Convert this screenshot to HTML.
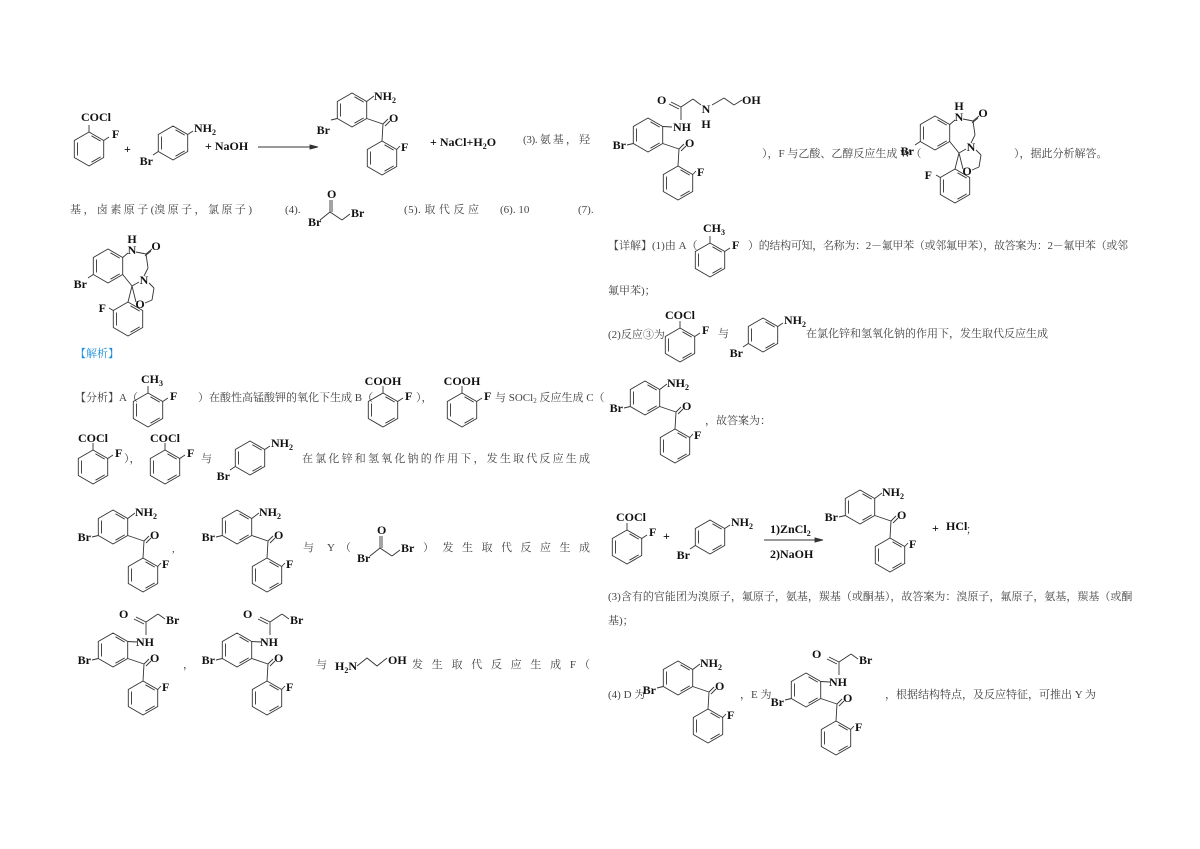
<!DOCTYPE html>
<html><head><meta charset="utf-8"><style>
html,body{margin:0;padding:0;background:#fff}
svg{display:block}
.t{font-family:"Liberation Serif","Noto Serif CJK SC",serif;font-size:11px;fill:#444}
.c{font-family:"Liberation Serif",serif;font-size:12px;font-weight:bold;fill:#111}
.m{text-anchor:middle}
.e{text-anchor:end}
.s{font-size:8px}
line,polyline,polygon,path{stroke:#333;stroke-width:0.9;fill:none}
</style></head><body>
<svg width="1200" height="849" viewBox="0 0 1200 849" xmlns="http://www.w3.org/2000/svg">
<defs>
<g id="ring"><polygon points="0,-17 14.7,-8.5 14.7,8.5 0,17 -14.7,8.5 -14.7,-8.5"/><line x1="-11.5" y1="-6.5" x2="-11.5" y2="6.5"/><line x1="2.5" y1="-13.2" x2="11.7" y2="-7.9"/><line x1="11.7" y1="7.9" x2="2.5" y2="13.2"/></g>
<g id="dcore"><use href="#ring"/><line x1="-14.7" y1="8.5" x2="-21" y2="10"/><line x1="14.7" y1="8.5" x2="31" y2="14"/><line x1="31" y1="14" x2="36" y2="9"/><line x1="33" y1="16" x2="38" y2="11"/><line x1="31" y1="14" x2="30" y2="31"/><use href="#ring" x="30" y="48"/><line x1="44.7" y1="39.5" x2="48" y2="36"/></g>
<g id="dsk"><use href="#dcore"/><line x1="14.7" y1="-8.5" x2="22" y2="-14"/></g>
<g id="esk"><use href="#dcore"/><line x1="14.7" y1="-8.5" x2="24" y2="-8"/><line x1="33" y1="-15" x2="33" y2="-28"/><line x1="33" y1="-28" x2="23" y2="-33"/><line x1="31" y1="-26" x2="21" y2="-31"/><line x1="33" y1="-28" x2="45" y2="-36"/><line x1="45" y1="-36" x2="52" y2="-31"/></g>
<g id="bz"><use href="#ring"/><line x1="0" y1="-17" x2="0" y2="-24"/><line x1="14.7" y1="-8.5" x2="20" y2="-12"/></g>
<g id="ba"><use href="#ring"/><line x1="14.7" y1="-8.5" x2="20" y2="-12"/><line x1="-14.7" y1="8.5" x2="-20" y2="12"/></g>
<g id="wsk"><use href="#ring"/><line x1="-14.7" y1="8.5" x2="-20" y2="12"/><line x1="14.7" y1="-8.5" x2="20" y2="-13"/><line x1="28" y1="-14" x2="38" y2="-12"/><line x1="38" y1="-12" x2="44" y2="-17"/><line x1="37" y1="-10" x2="43" y2="-15"/><line x1="38" y1="-12" x2="40" y2="2"/><line x1="40" y1="2" x2="36" y2="10"/><line x1="14.7" y1="8.5" x2="24" y2="20"/><line x1="24" y1="20" x2="31" y2="16"/><line x1="41" y1="17" x2="46" y2="22"/><line x1="46" y1="22" x2="44" y2="34"/><line x1="44" y1="34" x2="37" y2="37"/><line x1="28" y1="36" x2="24" y2="20"/><line x1="24" y1="20" x2="20" y2="36"/><use href="#ring" x="20" y="53"/><line x1="5.3" y1="44.5" x2="1" y2="42"/></g>
</defs>

<!-- top-left reaction -->
<use href="#bz" x="89" y="149"/><text class="c m" x="96" y="121">COCl</text><text class="c" x="112" y="138">F</text>
<text class="c" x="124" y="153">+</text>
<use href="#ba" x="173" y="143"/><text class="c" x="194" y="132">NH<tspan class="s" dy="3">2</tspan></text><text class="c e" x="153" y="165">Br</text>
<text class="c" x="205" y="150">+ NaOH</text>
<line x1="258" y1="147" x2="316" y2="147"/><polygon points="318,147 310,145 310,149" style="fill:#333"/>
<use href="#dsk" x="352" y="110"/><text class="c" x="374" y="100">NH<tspan class="s" dy="3">2</tspan></text><text class="c e" x="330" y="134">Br</text><text class="c" x="389" y="122">O</text><text class="c" x="401" y="151">F</text>
<text class="c" x="430" y="146">+ NaCl+H<tspan class="s" dy="3">2</tspan><tspan dy="-3">O</tspan></text>
<text class="t" x="523" y="143" textLength="67">(3). 氨 基 ， 羟</text>

<text class="t" x="70" y="213" textLength="182">基 ， 卤 素 原 子 (溴 原 子 ， 氯 原 子 )</text>
<text class="t" x="285" y="213">(4).</text>
<line x1="320" y1="220" x2="330" y2="212"/><line x1="330" y1="212" x2="330" y2="200"/><line x1="332" y1="212" x2="332" y2="200"/><line x1="330" y1="212" x2="342" y2="220"/><line x1="342" y1="220" x2="350" y2="214"/>
<text class="c" x="327" y="198">O</text><text class="c" x="308" y="226">Br</text><text class="c" x="351" y="217">Br</text>
<text class="t" x="404" y="213" textLength="75">(5). 取 代 反 应</text>
<text class="t" x="500" y="213">(6). 10</text>
<text class="t" x="578" y="213">(7).</text>

<use href="#wsk" x="108" y="266"/><text class="c m" x="132" y="243">H</text><text class="c m" x="132" y="254">N</text><text class="c m" x="156" y="250">O</text><text class="c m" x="144" y="284">N</text><text class="c m" x="140" y="308">O</text><text class="c e" x="106" y="312">F</text><text class="c e" x="87" y="288">Br</text>

<text class="t" x="75" y="357" style="fill:#1a8fd8">【解析】</text>

<text class="t" x="75" y="401">【分析】A（</text>
<use href="#bz" x="148" y="410"/><text class="c m" x="152" y="383">CH<tspan class="s" dy="3">3</tspan></text><text class="c" x="170" y="400">F</text>
<text class="t" x="198" y="401">）在酸性高锰酸钾的氧化下生成 B（</text>
<use href="#bz" x="383" y="410"/><text class="c m" x="383" y="385">COOH</text><text class="c" x="405" y="400">F</text>
<text class="t" x="416" y="401">），</text>
<use href="#bz" x="462" y="410"/><text class="c m" x="462" y="385">COOH</text><text class="c" x="484" y="400">F</text>
<text class="t" x="495" y="401">与 SOCl<tspan font-size="7" dy="2">2</tspan><tspan dy="-2"> 反应生成 C（</tspan></text>

<use href="#bz" x="93" y="467"/><text class="c m" x="93" y="442">COCl</text><text class="c" x="115" y="457">F</text>
<text class="t" x="124" y="462">），</text>
<use href="#bz" x="165" y="467"/><text class="c m" x="165" y="442">COCl</text><text class="c" x="187" y="457">F</text>
<text class="t" x="201" y="462">与</text>
<use href="#ba" x="250" y="458"/><text class="c" x="271" y="447">NH<tspan class="s" dy="3">2</tspan></text><text class="c e" x="230" y="480">Br</text>
<text class="t" x="302" y="462" textLength="288">在 氯 化 锌 和 氢 氧 化 钠 的 作 用 下 ， 发 生 取 代 反 应 生 成</text>

<use href="#dsk" x="113" y="527"/><text class="c" x="135" y="516">NH<tspan class="s" dy="3">2</tspan></text><text class="c e" x="91" y="541">Br</text><text class="c" x="150" y="539">O</text><text class="c" x="162" y="568">F</text>
<text class="t" x="172" y="552">,</text>
<use href="#dsk" x="237" y="527"/><text class="c" x="259" y="516">NH<tspan class="s" dy="3">2</tspan></text><text class="c e" x="215" y="541">Br</text><text class="c" x="274" y="539">O</text><text class="c" x="286" y="568">F</text>
<text class="t" x="303" y="551" textLength="48">与  Y（</text>
<line x1="370" y1="556" x2="380" y2="548"/><line x1="380" y1="548" x2="380" y2="536"/><line x1="382" y1="548" x2="382" y2="536"/><line x1="380" y1="548" x2="392" y2="556"/><line x1="392" y1="556" x2="400" y2="550"/>
<text class="c" x="377" y="534">O</text><text class="c" x="357" y="562">Br</text><text class="c" x="401" y="552">Br</text>
<text class="t" x="423" y="551" textLength="167">）  发 生 取 代 反 应 生 成</text>

<use href="#esk" x="113" y="650"/><text class="c" x="136" y="646">NH</text><text class="c" x="119" y="618">O</text><text class="c" x="166" y="624">Br</text><text class="c e" x="91" y="664">Br</text><text class="c" x="150" y="662">O</text><text class="c" x="162" y="691">F</text>
<text class="t" x="183" y="668">，</text>
<use href="#esk" x="237" y="650"/><text class="c" x="260" y="646">NH</text><text class="c" x="243" y="618">O</text><text class="c" x="290" y="624">Br</text><text class="c e" x="215" y="664">Br</text><text class="c" x="274" y="662">O</text><text class="c" x="286" y="691">F</text>
<text class="t" x="316" y="668">与</text>
<text class="c" x="335" y="670">H<tspan class="s" dy="3">2</tspan><tspan dy="-3">N</tspan></text><polyline points="357,666 367,658 377,666 387,658"/><text class="c" x="388" y="664">OH</text>
<text class="t" x="412" y="668" textLength="178">发 生 取 代 反 应 生 成 F（</text>

<!-- right column -->
<use href="#dcore" x="648" y="135"/><line x1="662.7" y1="126.5" x2="672" y2="127"/>
<text class="c" x="673" y="131">NH</text><text class="c e" x="626" y="149">Br</text><text class="c" x="685" y="147">O</text><text class="c" x="697" y="176">F</text>
<line x1="681" y1="120" x2="681" y2="107"/><line x1="681" y1="107" x2="671" y2="102"/><line x1="679" y1="109" x2="669" y2="104"/><line x1="681" y1="107" x2="693" y2="99"/><line x1="693" y1="99" x2="701" y2="105"/>
<text class="c" x="657" y="104">O</text><text class="c m" x="706" y="113">N</text><text class="c m" x="706" y="128">H</text>
<line x1="712" y1="105" x2="724" y2="98"/><line x1="724" y1="98" x2="734" y2="105"/><line x1="734" y1="105" x2="742" y2="100"/><text class="c" x="742" y="104">OH</text>
<text class="t" x="762" y="157">），F 与乙酸、乙醇反应生成 W（</text>
<use href="#wsk" x="935" y="133"/><text class="c m" x="959" y="110">H</text><text class="c m" x="959" y="121">N</text><text class="c m" x="983" y="117">O</text><text class="c m" x="971" y="151">N</text><text class="c m" x="967" y="175">O</text><text class="c e" x="932" y="179">F</text><text class="c e" x="914" y="155">Br</text>
<text class="t" x="1014" y="157">），据此分析解答。</text>

<text class="t" x="608" y="249">【详解】(1)由 A（</text>
<use href="#bz" x="710" y="260"/><text class="c m" x="714" y="232">CH<tspan class="s" dy="3">3</tspan></text><text class="c" x="732" y="249">F</text>
<text class="t" x="748" y="249" textLength="380">）的结构可知，名称为：2－氟甲苯（或邻氟甲苯），故答案为：2－氟甲苯（或邻</text>
<text class="t" x="608" y="294">氟甲苯)；</text>

<text class="t" x="608" y="338">(2)反应③为</text>
<use href="#bz" x="680" y="345"/><text class="c m" x="680" y="319">COCl</text><text class="c" x="702" y="334">F</text>
<text class="t" x="718" y="337">与</text>
<use href="#ba" x="763" y="335"/><text class="c" x="784" y="324">NH<tspan class="s" dy="3">2</tspan></text><text class="c e" x="743" y="357">Br</text>
<text class="t" x="806" y="337">在氯化锌和氢氧化钠的作用下，发生取代反应生成</text>

<use href="#dsk" x="645" y="398"/><text class="c" x="667" y="387">NH<tspan class="s" dy="3">2</tspan></text><text class="c e" x="623" y="412">Br</text><text class="c" x="682" y="410">O</text><text class="c" x="694" y="439">F</text>
<text class="t" x="705" y="424">，故答案为：</text>

<use href="#bz" x="627" y="547"/><text class="c m" x="631" y="521">COCl</text><text class="c" x="649" y="536">F</text>
<text class="c" x="663" y="540">+</text>
<use href="#ba" x="710" y="537"/><text class="c" x="731" y="526">NH<tspan class="s" dy="3">2</tspan></text><text class="c e" x="690" y="559">Br</text>
<text class="c" x="770" y="533">1)ZnCl<tspan class="s" dy="3">2</tspan></text>
<line x1="764" y1="540" x2="820" y2="540"/><polygon points="823,540 815,538 815,542" style="fill:#333"/>
<text class="c" x="770" y="558">2)NaOH</text>
<use href="#dsk" x="860" y="507"/><text class="c" x="882" y="496">NH<tspan class="s" dy="3">2</tspan></text><text class="c e" x="838" y="521">Br</text><text class="c" x="897" y="519">O</text><text class="c" x="909" y="548">F</text>
<text class="c" x="932" y="532">+</text><text class="c" x="946" y="530">HCl</text><text class="t" x="966" y="533">；</text>

<text class="t" x="608" y="600">(3)含有的官能团为溴原子，氟原子，氨基，羰基（或酮基），故答案为：溴原子，氟原子，氨基，羰基（或酮</text>
<text class="t" x="608" y="624">基)；</text>

<text class="t" x="608" y="698">(4) D 为</text>
<use href="#dsk" x="678" y="678"/><text class="c" x="700" y="667">NH<tspan class="s" dy="3">2</tspan></text><text class="c e" x="656" y="694">Br</text><text class="c" x="715" y="690">O</text><text class="c" x="727" y="719">F</text>
<text class="t" x="740" y="698">，E 为</text>
<use href="#esk" x="806" y="690"/><text class="c" x="829" y="686">NH</text><text class="c" x="812" y="658">O</text><text class="c" x="859" y="664">Br</text><text class="c e" x="784" y="706">Br</text><text class="c" x="843" y="702">O</text><text class="c" x="855" y="731">F</text>
<text class="t" x="885" y="698">，根据结构特点，及反应特征，可推出 Y 为</text>
</svg>
</body></html>
